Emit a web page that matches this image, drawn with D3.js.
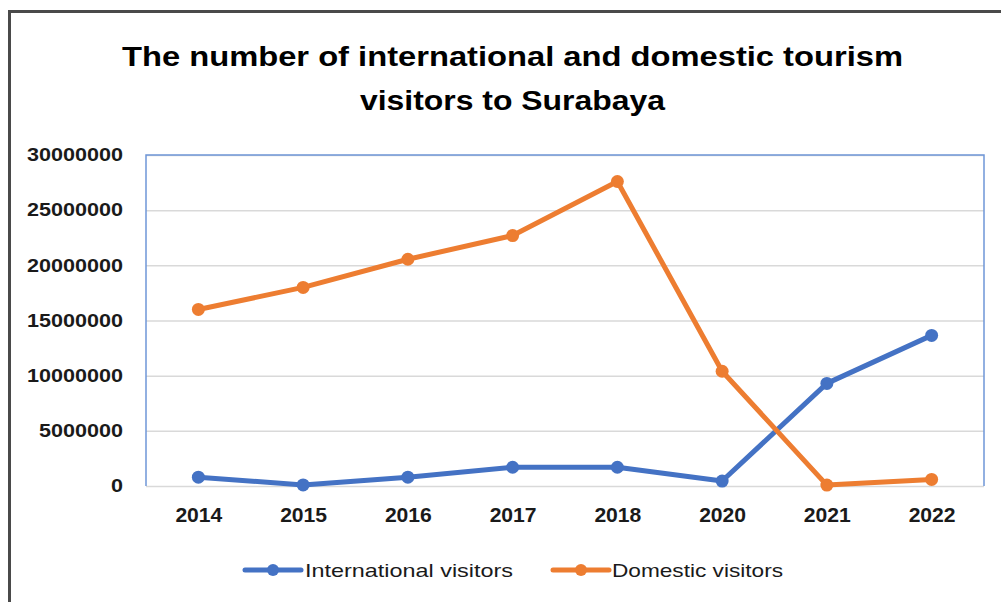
<!DOCTYPE html>
<html>
<head>
<meta charset="utf-8">
<script src="https://cdn.jsdelivr.net/npm/d3@7"></script>
<style>
  html, body { margin: 0; padding: 0; background: #fff; }
  svg { display: block; }
</style>
</head>
<body>
<div id="chart"></div>
<script>
const years = ["2014", "2015", "2016", "2017", "2018", "2020", "2021", "2022"];
const international = [800000, 100000, 800000, 1700000, 1700000, 450000, 9300000, 13650000];
const domestic = [16000000, 18000000, 20550000, 22700000, 27600000, 10400000, 80000, 600000];
const yTicks = [0, 5000000, 10000000, 15000000, 20000000, 25000000, 30000000];
const titleLines = ["The number of international and domestic tourism", "visitors to Surabaya"];
const seriesNames = ["International visitors", "Domestic visitors"];

const W = 1001, H = 602;
const colors = ["#4472C4", "#ED7D31"];
const plot = { left: 146, right: 984, top: 155, bottom: 486 };

const svg = d3.select("#chart").append("svg").attr("width", W).attr("height", H);
svg.append("rect").attr("width", W).attr("height", H).attr("fill", "#fff");

// outer border (top and left)
svg.append("path")
  .attr("d", `M9.5,${H} L9.5,11.5 L${W},11.5`)
  .attr("fill", "none").attr("stroke", "#4a4a4a").attr("stroke-width", 3);

// title
const titleLens = [781, 305];
const titleY = [66, 110];
titleLines.forEach((t, i) => {
  svg.append("text")
    .attr("x", 512.5).attr("y", titleY[i])
    .attr("text-anchor", "middle")
    .attr("font-family", "Liberation Sans, Arial, sans-serif")
    .attr("font-weight", "bold").attr("font-size", 28)
    .attr("textLength", titleLens[i]).attr("lengthAdjust", "spacingAndGlyphs")
    .attr("fill", "#000")
    .text(t);
});

const x = d3.scalePoint().domain(years).range([plot.left, plot.right]).padding(0.5);
const y = d3.scaleLinear().domain([0, 30000000]).range([plot.bottom, plot.top]);

// gridlines
svg.append("g").selectAll("line").data(yTicks).join("line")
  .attr("x1", plot.left).attr("x2", plot.right)
  .attr("y1", d => y(d) + 0.5).attr("y2", d => y(d) + 0.5)
  .attr("stroke", "#d9d9d9").attr("stroke-width", 1.5);

// plot area frame (left, top, right) in blue
svg.append("path")
  .attr("d", `M${plot.left},${plot.bottom} L${plot.left},${plot.top} L${plot.right},${plot.top} L${plot.right},${plot.bottom}`)
  .attr("fill", "none").attr("stroke", "#6f96d8").attr("stroke-width", 1.5);

// y axis labels
const yAxis = d3.axisLeft(y).tickValues(yTicks).tickSize(0).tickPadding(0).tickFormat(d => String(d));
const gy = svg.append("g").attr("transform", `translate(123,0)`).call(yAxis);
gy.select(".domain").remove();
gy.selectAll("text")
  .attr("font-family", "Liberation Sans, Arial, sans-serif")
  .attr("font-weight", "bold").attr("font-size", 19).attr("fill", "#1a1a1a")
  .attr("dy", "0.3em")
  .attr("textLength", d => String(d).length * 12).attr("lengthAdjust", "spacingAndGlyphs");

// x axis labels
const xAxis = d3.axisBottom(x).tickSize(0).tickPadding(0);
const gx = svg.append("g").attr("transform", `translate(0,522)`).call(xAxis);
gx.select(".domain").remove();
gx.selectAll("text")
  .attr("font-family", "Liberation Sans, Arial, sans-serif")
  .attr("font-weight", "bold").attr("font-size", 20).attr("fill", "#1a1a1a")
  .attr("dy", 0)
  .attr("textLength", 47).attr("lengthAdjust", "spacingAndGlyphs");

// series
const series = [international, domestic];
const line = d3.line().x((d, i) => x(years[i])).y(d => y(d));
series.forEach((vals, si) => {
  const g = svg.append("g");
  g.append("path").datum(vals).attr("d", line)
    .attr("fill", "none").attr("stroke", colors[si]).attr("stroke-width", 5)
    .attr("stroke-linejoin", "round").attr("stroke-linecap", "round");
  g.selectAll("circle").data(vals).join("circle")
    .attr("cx", (d, i) => x(years[i])).attr("cy", d => y(d)).attr("r", 6.5)
    .attr("fill", colors[si]);
});

// legend
const legendItems = [
  { x0: 245, x1: 301, tx: 305, len: 208 },
  { x0: 553, x1: 609, tx: 612, len: 171 }
];
legendItems.forEach((l, i) => {
  const g = svg.append("g");
  g.append("line").attr("x1", l.x0).attr("x2", l.x1).attr("y1", 570).attr("y2", 570)
    .attr("stroke", colors[i]).attr("stroke-width", 5).attr("stroke-linecap", "round");
  g.append("circle").attr("cx", (l.x0 + l.x1) / 2).attr("cy", 570).attr("r", 6).attr("fill", colors[i]);
  g.append("text").attr("x", l.tx).attr("y", 577)
    .attr("font-family", "Liberation Sans, Arial, sans-serif")
    .attr("font-size", 19).attr("fill", "#1a1a1a")
    .attr("textLength", l.len).attr("lengthAdjust", "spacingAndGlyphs")
    .text(seriesNames[i]);
});
</script>
</body>
</html>
